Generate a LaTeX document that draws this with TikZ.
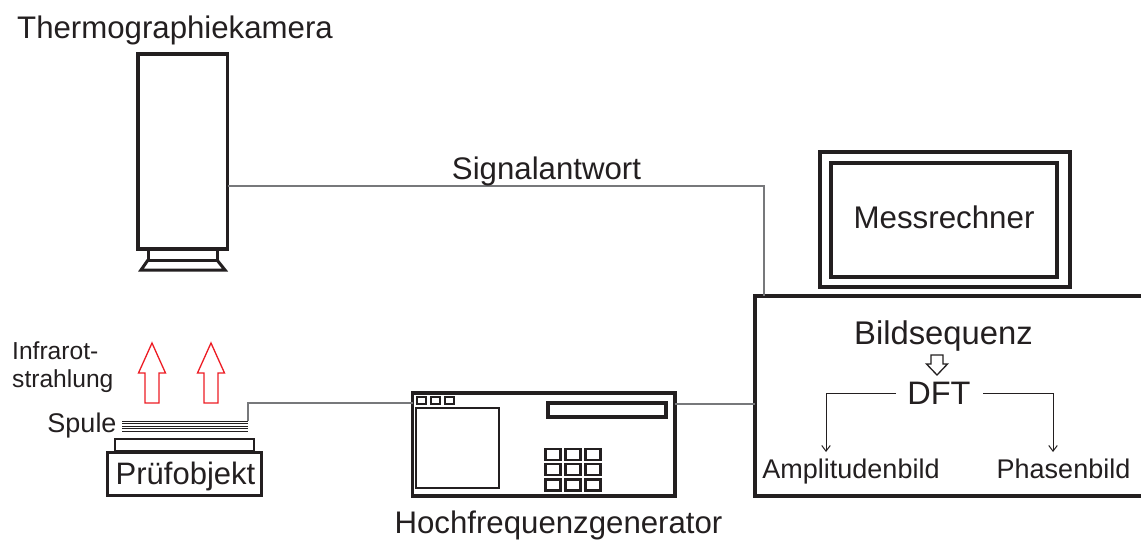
\documentclass[tikz,border=0pt]{standalone}
\usepackage{fontspec}
\setmainfont{Liberation Sans}
\usetikzlibrary{arrows.meta,positioning,calc}
\definecolor{ink}{HTML}{231F20}
\definecolor{signal}{HTML}{77787B}
\definecolor{strahl}{HTML}{ED1C24}
\tikzset{label/.style={text=ink,inner sep=0pt,anchor=base},
  grad/.style={font=\fontsize{#1}{#1}\selectfont},
  gross/.style={label,grad=31.2},
  mittel/.style={label,grad=27},
  klein/.style={label,grad=24.6},
  rahmen/.style={draw=ink,line width=3.5pt,inner sep=0pt,outer sep=0pt},
  taste/.style={draw=ink,line width=2.2pt,inner sep=0pt,outer sep=0pt},
  leitung/.style={draw=signal,line width=2pt},
  zweig/.style={draw=ink,line width=1pt,-{Straight Barb[length=2mm,width=3mm]}}}
\begin{document}
\begin{tikzpicture}[x=1pt,y=-1pt]
\useasboundingbox (0,0) rectangle (1141,541);
\fill[white] (0,0) rectangle (1141,541);
% Kamera
\node[rahmen,minimum width=89.5pt,minimum height=195pt] (kamera) at (182.75,151.5) {};
\node[gross] (kameratext) at (175,38) {Thermographiekamera};
\draw[ink,line width=3pt] (148,251)--(148,260)--(217,260)--(217,251);
\draw[ink,line width=3pt] (148,260)--(141,270)--(225,270)--(217,260);
\draw[ink,line width=3.8pt] (kamera.east |- 0,152)--(kamera.east |- 0,190);
% Monitor
\node[rahmen,minimum width=250pt,minimum height=135pt] (monitor) at (945,219.5) {};
\node[rahmen,minimum width=226pt,minimum height=114pt] (bildschirm) at (944,220) {};
\node[gross,grad=31.3] (messrechner) at (944,228) {Messrechner};
% Auswertung, rechts offen
\node[rahmen,minimum width=400pt,minimum height=200pt] (auswertung) at (955,396) {};
\node[gross,grad=32.8] (bildsequenz) at (943.5,344) {Bildsequenz};
\node[gross,grad=32.5] (dft) at (939,404) {DFT};
\node[mittel] (amplitude) at (851,478) {Amplitudenbild};
\node[mittel] (phase) at (1063.5,478) {Phasenbild};
\coordinate (dftlinks) at (896,393);
\coordinate (dftrechts) at (983,393);
\coordinate (amplitudeoben) at (826,452);
\coordinate (phaseoben) at (1053,452);
\draw[zweig] (dftlinks) -| (amplitudeoben);
\draw[zweig] (dftrechts) -| (phaseoben);
\draw[ink,line width=1.3pt] (931,355)--(943,355)--(943,364)--(947.5,364)--(937,375)--(926.5,364)--(931,364)--cycle;
% Generator
\node[rahmen,minimum width=262.5pt,minimum height=103pt] (generator) at (543.75,444.5) {};
\node[gross] (generatortext) at (558.5,533) {Hochfrequenzgenerator};
\node[taste,minimum width=83pt,minimum height=80pt] (anzeige) at (457.5,448) {};
\node[rahmen,minimum width=118pt,minimum height=14pt] (schlitz) at (607,410) {};
\foreach \i in {0,1,2}{
  \node[taste,minimum width=9pt,minimum height=7pt] (knopf\i) at (421.5+14*\i,400.5) {};
  \foreach \j in {0,1,2}
    \node[taste,minimum width=15pt,minimum height=11pt] (taste\i\j) at (553+20*\i,454.5+15.2*\j) {};
}
% Pruefobjekt
\node[rahmen,minimum width=154pt,minimum height=43pt] (objekt) at (184.5,474) {};
\node[gross,grad=31] (objekttext) at (185.5,484) {Prüfobjekt};
\node[taste,minimum width=139pt,minimum height=12pt] (platte) at (184.5,445) {};
% Spule
\foreach \y in {421,423.5,426,428.5,431}
  \draw[ink,line width=0.7pt] (122,\y)--(248,\y);
\coordinate (spule) at (247.5,421);
\node[mittel] (spuletext) at (82,432) {Spule};
\node[klein,anchor=base west] (infrarot) at (12,359) {Infrarot-};
\node[klein,anchor=base west] (strahlung) at (12,387) {strahlung};
\foreach \x in {152,211}
  \draw[strahl,line width=1.3pt] (\x-7,403)--(\x+7,403)--(\x+7,373)--(\x+13.5,373)--(\x,343)--(\x-13.5,373)--(\x-7,373)--cycle;
% Leitungen
\coordinate (kameraaus) at (kamera.east |- 0,186);
\coordinate (knick) at (764,186);
\draw[leitung] (kameraaus)--(knick)--(knick |- auswertung.north);
\node[gross] (signaltext) at (546.5,179) {Signalantwort};
\draw[leitung] (spule) |- (generator.west |- 0,403);
\draw[leitung] (generator.east |- 0,404)--(auswertung.west |- 0,404);
\end{tikzpicture}
\end{document}
